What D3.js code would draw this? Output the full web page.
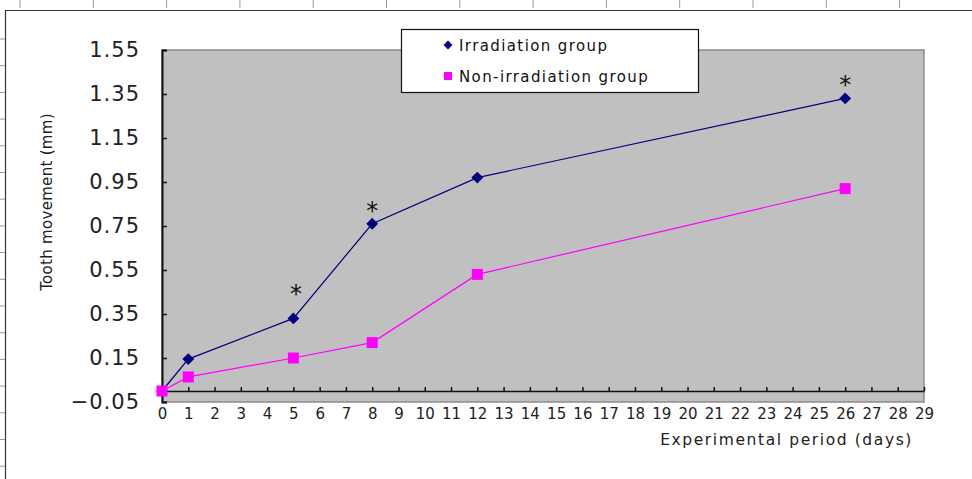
<!DOCTYPE html>
<html>
<head>
<meta charset="utf-8">
<script src="https://cdn.jsdelivr.net/npm/d3@7"></script>
<style>
  html, body { margin: 0; padding: 0; background: #fff; }
  svg { display: block; }
</style>
</head>
<body>
<svg id="chart" width="972" height="479"></svg>
<script>
// ---- data ----
const days = [0, 1, 5, 8, 12, 26];
const irradiation = [0.0, 0.145, 0.33, 0.76, 0.97, 1.33];
const nonIrradiation = [0.0, 0.064, 0.15, 0.22, 0.53, 0.92];
const seriesNames = ["Irradiation group", "Non-irradiation group"];
const xTicks = d3.range(0, 30);
const yTicks = [-0.05, 0.15, 0.35, 0.55, 0.75, 0.95, 1.15, 1.35, 1.55];
const starDays = [5.1, 8, 26];
const starValues = [0.47, 0.845, 1.42];

const svg = d3.select("#chart");
const W = 972, H = 479;
const font = "'DejaVu Sans', 'Liberation Sans', sans-serif";

// outer frame decoration (cropped figure frame)
const frame = svg.append("g").attr("stroke", "#333").attr("stroke-width", 1.2);
frame.append("line").attr("x1", 5.5).attr("x2", 5.5).attr("y1", 10).attr("y2", H);
frame.append("line").attr("x1", 5).attr("x2", W).attr("y1", 10.5).attr("y2", 10.5);
d3.range(20, W, 73.3).forEach(x => {
  frame.append("line").attr("x1", x).attr("x2", x).attr("y1", 0).attr("y2", 8).attr("stroke", "#999").attr("stroke-width", 1);
});
d3.range(39, H, 26.7).forEach(y => {
  frame.append("line").attr("x1", 0).attr("x2", 5).attr("y1", y).attr("y2", y).attr("stroke", "#999").attr("stroke-width", 1);
});

// scales
const x = d3.scaleLinear().domain([0, 29]).range([162, 924]);
const y = d3.scaleLinear().domain([-0.05, 1.55]).range([402, 50]);

// plot background
svg.append("rect")
  .attr("x", x(0)).attr("y", y(1.55))
  .attr("width", x(29) - x(0)).attr("height", y(-0.05) - y(1.55))
  .attr("fill", "#c0c0c0").attr("stroke", "#8c8c8c").attr("stroke-width", 1.5);

// y axis
const yAxis = d3.axisLeft(y).tickValues(yTicks)
  .tickFormat(d => d.toFixed(2).replace("-", "\u2212"))
  .tickSizeInner(-5).tickSizeOuter(-5).tickPadding(22);
const gy = svg.append("g").attr("transform", `translate(${x(0)},0)`).call(yAxis);
gy.select(".domain").attr("stroke", "#111").attr("stroke-width", 2);
gy.selectAll(".tick line").attr("stroke", "#111").attr("stroke-width", 1.5);
gy.selectAll(".tick text").attr("font-family", font).attr("font-size", 21)
  .attr("fill", "#222").attr("letter-spacing", 1);

// x axis at y = 0
const xAxis = d3.axisBottom(x).tickValues(xTicks).tickFormat(d3.format("d"))
  .tickSizeInner(-4).tickSizeOuter(0).tickPadding(17);
const gx = svg.append("g").attr("transform", `translate(0,${y(0)})`).call(xAxis);
gx.select(".domain").attr("stroke", "#111").attr("stroke-width", 1.5);
gx.selectAll(".tick line").attr("stroke", "#111").attr("stroke-width", 1.5);
gx.selectAll(".tick text").attr("font-family", font).attr("font-size", 15).attr("fill", "#222");

// axis titles
svg.append("text").attr("x", 913).attr("y", 445).attr("text-anchor", "end")
  .attr("font-family", font).attr("font-size", 15.5).attr("fill", "#222")
  .attr("letter-spacing", 1.6)
  .text("Experimental period (days)");
svg.append("text")
  .attr("transform", `translate(52,202) rotate(-90)`)
  .attr("text-anchor", "middle").attr("font-family", font).attr("font-size", 15)
  .attr("fill", "#222").attr("letter-spacing", 0.3)
  .text("Tooth movement (mm)");

// lines
const line = d3.line().x((d, i) => x(days[i])).y(d => y(d));
svg.append("path").datum(nonIrradiation).attr("d", line)
  .attr("fill", "none").attr("stroke", "#ff00ff").attr("stroke-width", 1.2);
svg.append("path").datum(irradiation).attr("d", line)
  .attr("fill", "none").attr("stroke", "#000080").attr("stroke-width", 1.2);

// markers
const diamond = d3.symbol().type(d3.symbolDiamond2).size(90);
svg.append("g").selectAll("path").data(irradiation).join("path")
  .attr("d", diamond)
  .attr("transform", (d, i) => `translate(${x(days[i])},${y(d)})`)
  .attr("fill", "#000080");
svg.append("g").selectAll("rect").data(nonIrradiation).join("rect")
  .attr("x", (d, i) => x(days[i]) - 5.5).attr("y", d => y(d) - 5.5)
  .attr("width", 11).attr("height", 11)
  .attr("fill", "#ff00ff");

// asterisks
svg.append("g").selectAll("text").data(starValues).join("text")
  .attr("x", (d, i) => x(starDays[i])).attr("y", d => y(d) + 14)
  .attr("text-anchor", "middle").attr("font-family", font).attr("font-size", 24)
  .attr("fill", "#111").text("*");

// legend
const lg = svg.append("g");
lg.append("rect").attr("x", 401.5).attr("y", 29.5).attr("width", 297).attr("height", 63)
  .attr("fill", "#fff").attr("stroke", "#111").attr("stroke-width", 1.2);
lg.append("path").attr("d", d3.symbol().type(d3.symbolDiamond2).size(50))
  .attr("transform", "translate(448,45)").attr("fill", "#000080");
lg.append("rect").attr("x", 444).attr("y", 72).attr("width", 8).attr("height", 8).attr("fill", "#ff00ff");
lg.append("text").attr("x", 459).attr("y", 50.5).attr("font-family", font).attr("font-size", 15)
  .attr("fill", "#111").attr("letter-spacing", 1.4).text(seriesNames[0]);
lg.append("text").attr("x", 459).attr("y", 81.5).attr("font-family", font).attr("font-size", 15)
  .attr("fill", "#111").attr("letter-spacing", 1.4).text(seriesNames[1]);
</script>
</body>
</html>
